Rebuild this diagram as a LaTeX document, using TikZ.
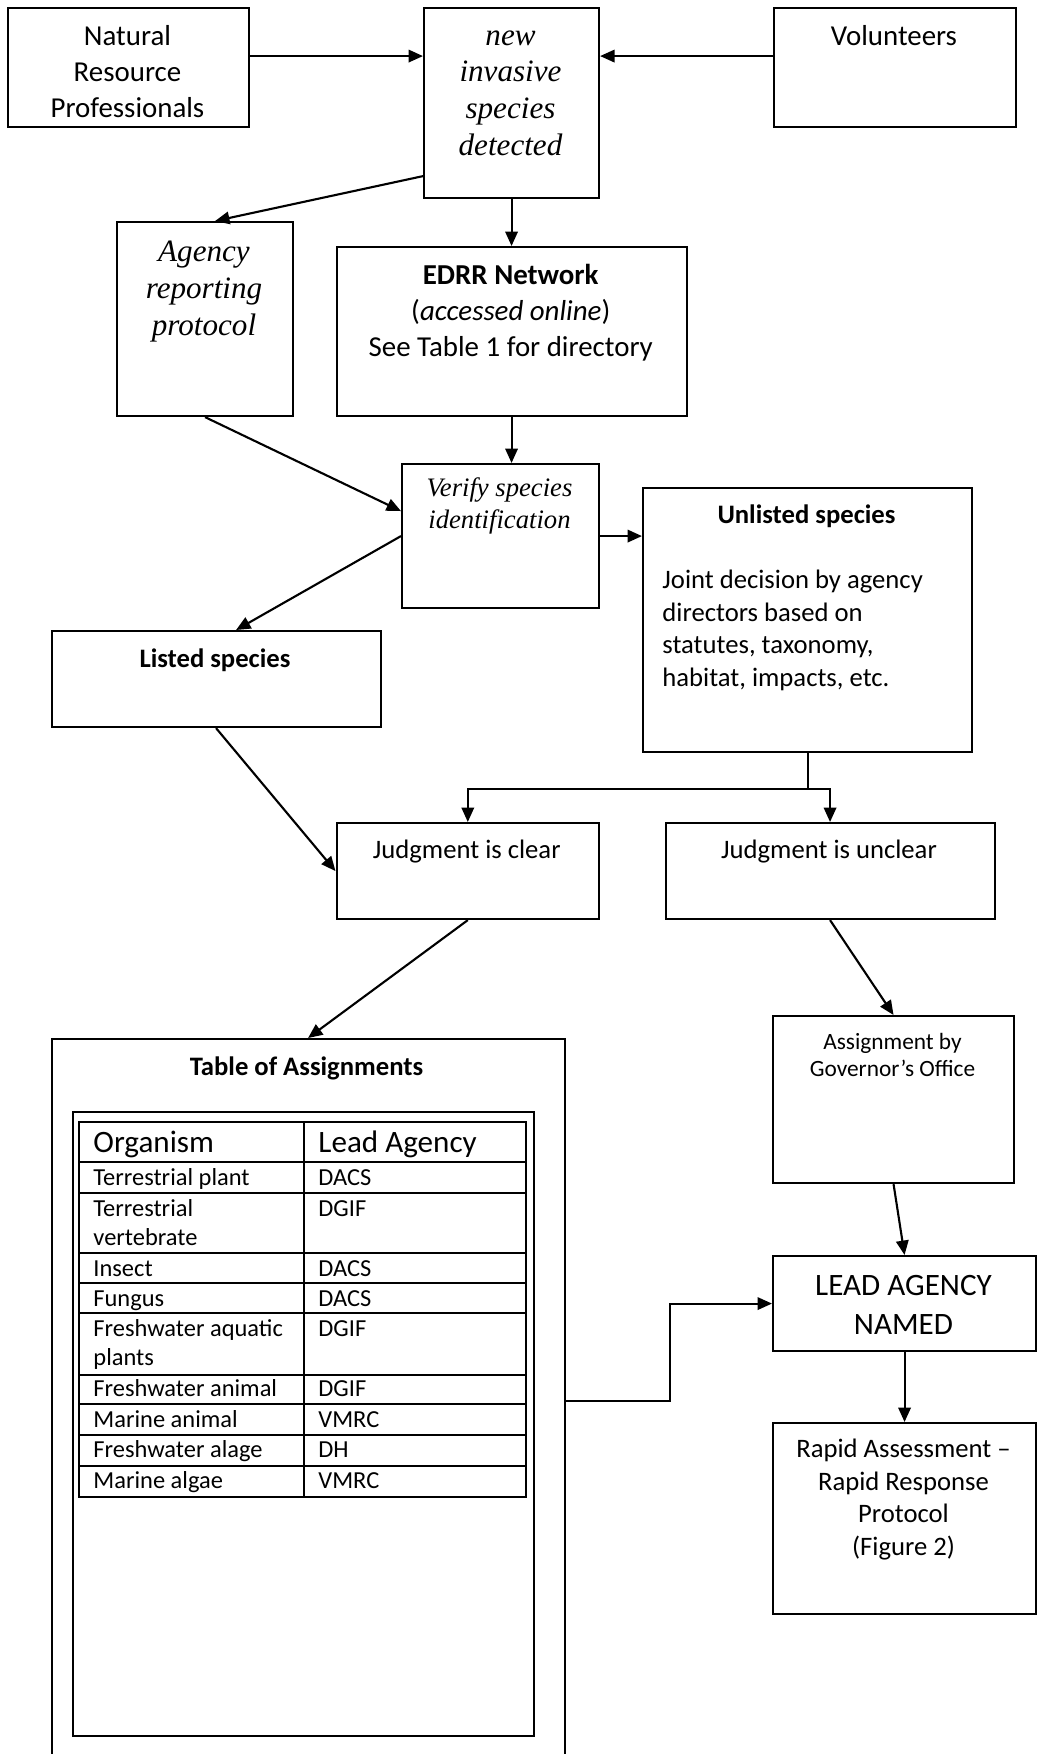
\documentclass[tikz,border=0pt]{standalone}
\usepackage{fontspec}
\setmainfont{Carlito}
\newfontfamily\timesfont{Liberation Serif}
\usetikzlibrary{arrows.meta,positioning}

\newlength\px
\setlength\px{0.45pt}

\tikzset{
  box/.style={draw, line width=0.95pt, anchor=north west, inner sep=0pt},
  arr/.style={line width=0.95pt, -{Triangle[length=6.5pt,width=5.6pt]}},
  txt/.style={align=center, inner sep=0pt, anchor=base},
  sans13/.style={txt, font=\fontsize{13}{16.2}\selectfont},
  sans12/.style={txt, font=\fontsize{12}{14.6}\selectfont},
  bold12/.style={txt, font=\fontsize{12}{14.6}\selectfont\bfseries},
  serif14/.style={txt, font=\fontsize{14}{16.5}\selectfont\timesfont\itshape},
  serif12/.style={txt, font=\fontsize{12}{14}\selectfont\timesfont\itshape},
  cell/.style={inner sep=0pt, anchor=base west, font=\fontsize{11}{13}\selectfont}
}

\begin{document}
\begin{tikzpicture}[x=0.45pt,y=-0.45pt]
\useasboundingbox[fill=white] (0,0) rectangle (1040,1754);
\clip (0,0) rectangle (1040,1754);

% boxes
\node[box, minimum width=241\px, minimum height=119\px] (nrp) at (7,7) {};
\node[box, minimum width=175\px, minimum height=190\px] (new) at (423,7) {};
\node[box, minimum width=242\px, minimum height=119\px] (vol) at (773,7) {};
\node[box, minimum width=176\px, minimum height=194\px] (agency) at (116,221) {};
\node[box, minimum width=350\px, minimum height=169\px] (edrr) at (335.5,246) {};
\node[box, minimum width=197\px, minimum height=144\px] (verify) at (401,463) {};
\node[box, minimum width=329\px, minimum height=264\px] (unlisted) at (642,487) {};
\node[box, minimum width=329\px, minimum height=96\px] (listed) at (50.5,630) {};
\node[box, minimum width=262.5\px, minimum height=96\px] (clear) at (335.5,822) {};
\node[box, minimum width=329\px, minimum height=96\px] (unclear) at (664.5,822) {};
\node[box, minimum width=241\px, minimum height=167\px] (asg) at (772,1015) {};
\node[box, minimum width=513\px, minimum height=724\px] (tbl) at (50.5,1038) {}; % runs off the page
\node[box, minimum width=461\px, minimum height=624\px] (frame) at (72,1111) {};
\node[box, minimum width=263\px, minimum height=95\px] (lead) at (772,1255) {};
\node[box, minimum width=263\px, minimum height=191\px] (rapid) at (772,1422) {};

% texts (base = last line)
\node[sans13] (nrp-t) at (127.5,117) {Natural\\Resource\\Professionals};
\node[serif14] (new-t) at (510.5,155) {new\\invasive\\species\\detected};
\node[sans13] (vol-t) at (894,45) {Volunteers};
\node[serif14] (agency-t) at (204,335) {Agency\\reporting\\protocol};
\node[sans13] (edrr-t) at (510.75,356) {\textbf{EDRR Network}\\(\textit{accessed online})\\See Table 1 for directory};
\node[serif12] (verify-t) at (499.5,528) {Verify species\\identification};
\node[bold12] (unlisted-t) at (806.5,523) {Unlisted species};
\node[sans12, align=left, anchor=base west] (unlisted-b) at (662,686) {Joint decision by agency\\directors based on\\statutes, taxonomy,\\habitat, impacts, etc.};
\node[bold12] (listed-t) at (215,667) {Listed species};
\node[sans12] (clear-t) at (466.75,858) {Judgment is clear};
\node[sans12] (unclear-t) at (829,858) {Judgment is unclear};
\node[txt, font=\fontsize{10.5}{12.4}\selectfont] (asg-t) at (892.5,1076.6) {Assignment by\\Governor’s Office};
\node[txt, font=\fontsize{14}{17.4}\selectfont] (lead-t) at (903.5,1334.6) {LEAD AGENCY\\NAMED};
\node[txt, font=\fontsize{12}{14.6}\selectfont] (rapid-t) at (903.5,1555) {Rapid Assessment --\\Rapid Response\\Protocol\\(Figure 2)};
\node[bold12] (tbl-t) at (306.5,1075) {Table of Assignments};

% table of assignments
\draw[line width=0.95pt] (79,1122) rectangle (526,1497);
\draw[line width=0.95pt] (304,1122) -- (304,1497);
\foreach \y in {1162,1193,1253,1283,1313,1375,1404,1435,1466}
  \draw[line width=0.95pt] (79,\y) -- (526,\y);
\node[cell, font=\fontsize{14}{16}\selectfont] (org0) at (93,1152.7) {Organism};
\node[cell, font=\fontsize{14}{16}\selectfont] (lead0) at (318,1152.7) {Lead Agency};
\foreach \y/\o [count=\i] in {1185/Terrestrial plant, 1216.7/Terrestrial, 1245.5/vertebrate,
    1276/Insect, 1306/Fungus, 1336.7/Freshwater aquatic, 1365.7/plants,
    1396.7/Freshwater animal, 1427/Marine animal, 1457.7/Freshwater alage, 1488.3/Marine algae}
  \node[cell] (org\i) at (93,\y) {\o};
\foreach \y/\a [count=\i] in {1185/DACS, 1216.7/DGIF, 1276/DACS, 1306/DACS, 1336.7/DGIF,
    1396.7/DGIF, 1427/VMRC, 1457.7/DH, 1488.3/VMRC}
  \node[cell] (agy\i) at (318,\y) {\a};

% connectors
\draw[arr] ([yshift=11.5\px]nrp.east) -- ([yshift=11.5\px]nrp.east -| new.west);
\draw[arr] ([yshift=11.5\px]vol.west) -- ([yshift=11.5\px]vol.west -| new.east);
\draw[arr] ([yshift=23\px]new.south west) -- ([xshift=10\px]agency.north);
\draw[arr] (new.south) -- (new.south |- edrr.north);
\draw[arr] (agency.south) -- ([yshift=25\px]verify.west);
\draw[arr] (edrr.south) -- (edrr.south |- verify.north);
\draw[arr] (verify.east) -- (verify.east -| unlisted.west);
\draw[arr] (verify.west) -- ([xshift=20\px]listed.north);
\coordinate (split) at ([yshift=-36\px]unlisted.south);
\draw[line width=0.95pt] (unlisted.south) -- (split);
\draw[arr] (split) -| (clear.north);
\draw[arr] (split) -| (unclear.north);
\draw[arr] (listed.south) -- (clear.west);
\draw[arr] (clear.south) -- (tbl.north);
\draw[arr] (unclear.south) -- (asg.north);
\draw[arr] (asg.south) -- (lead.north);
\draw[arr] (tbl.east) -- ++(104,0) |- (lead.west);
\draw[arr] (lead.south) -- (rapid.north);
\end{tikzpicture}
\end{document}
